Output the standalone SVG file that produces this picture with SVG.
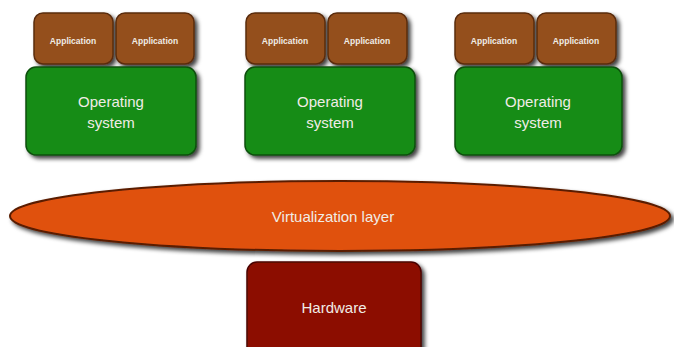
<svg xmlns="http://www.w3.org/2000/svg" width="674" height="347" viewBox="0 0 674 347">
  <defs>
    <filter id="shadow" x="-10%" y="-10%" width="125%" height="130%">
      <feDropShadow dx="3" dy="3" stdDeviation="2" flood-color="#000" flood-opacity="0.75"/>
    </filter>
    <style>
      .app { fill: #94501e; stroke: #5a2c0c; stroke-width: 1.5; filter: url(#shadow); }
      .os { fill: #178c17; stroke: #0b4f0b; stroke-width: 1.5; filter: url(#shadow); }
      .virt { fill: #e0510f; stroke: #5a1e04; stroke-width: 2; filter: url(#shadow); }
      .hw { fill: #8c0c04; stroke: #4a0602; stroke-width: 1.5; filter: url(#shadow); }
      text { font-family: "Liberation Sans", Arial, sans-serif; fill: #f0ece6; text-anchor: middle; }
      .small { font-size: 8.5px; font-weight: bold; }
      .big { font-size: 15px; }
    </style>
  </defs>

  <rect width="674" height="347" fill="#ffffff"/>

  <!-- Stack 1 -->
  <g id="app1a">
    <rect class="app" x="34" y="13" width="79" height="51" rx="9"/>
    <text class="small" x="73" y="44">Application</text>
  </g>
  <g id="app1b">
    <rect class="app" x="116" y="13" width="78" height="51" rx="9"/>
    <text class="small" x="155" y="44">Application</text>
  </g>
  <g id="os1">
    <rect class="os" x="26" y="67" width="170" height="88" rx="10"/>
    <text class="big" x="111" y="107">Operating</text>
    <text class="big" x="111" y="128">system</text>
  </g>

  <!-- Stack 2 -->
  <g id="app2a">
    <rect class="app" x="246" y="13" width="79" height="51" rx="9"/>
    <text class="small" x="285" y="44">Application</text>
  </g>
  <g id="app2b">
    <rect class="app" x="328" y="13" width="79" height="51" rx="9"/>
    <text class="small" x="367" y="44">Application</text>
  </g>
  <g id="os2">
    <rect class="os" x="245" y="67" width="170" height="88" rx="10"/>
    <text class="big" x="330" y="107">Operating</text>
    <text class="big" x="330" y="128">system</text>
  </g>

  <!-- Stack 3 -->
  <g id="app3a">
    <rect class="app" x="455" y="13" width="79" height="51" rx="9"/>
    <text class="small" x="494" y="44">Application</text>
  </g>
  <g id="app3b">
    <rect class="app" x="537" y="13" width="79" height="51" rx="9"/>
    <text class="small" x="576" y="44">Application</text>
  </g>
  <g id="os3">
    <rect class="os" x="455" y="67" width="167" height="88" rx="10"/>
    <text class="big" x="538" y="107">Operating</text>
    <text class="big" x="538" y="128">system</text>
  </g>

  <!-- Virtualization layer -->
  <g id="virtualization">
    <ellipse class="virt" cx="340" cy="216" rx="330" ry="35"/>
    <text class="big" x="333" y="222">Virtualization layer</text>
  </g>

  <!-- Hardware -->
  <g id="hardware">
    <rect class="hw" x="247" y="262" width="174" height="95" rx="10"/>
    <text class="big" x="334" y="313">Hardware</text>
  </g>

  <g id="connectors"/>
</svg>
